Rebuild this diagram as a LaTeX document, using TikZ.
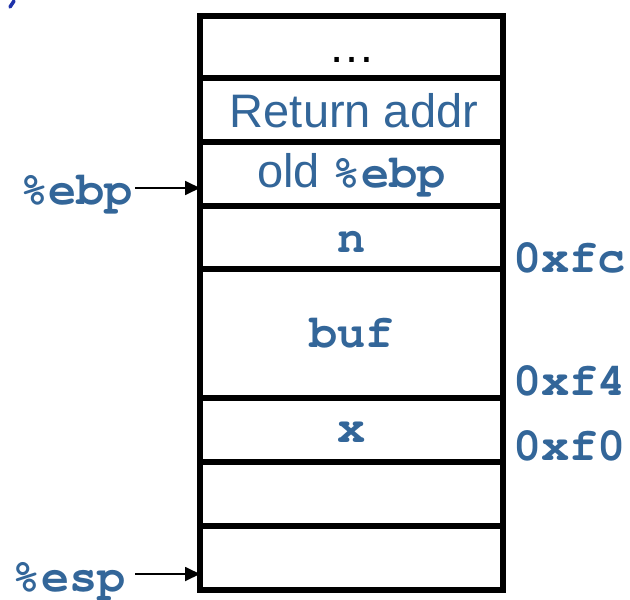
\documentclass[tikz,border=0pt]{standalone}
\usepackage{fontspec}
\setmainfont{Liberation Sans}
\newfontfamily\cursorbold{texgyrecursor-bold.otf}
\usetikzlibrary{arrows.meta}
\definecolor{lbl}{RGB}{51,102,153}
\definecolor{frag}{RGB}{30,50,170}
\newcommand\sansf{\fontsize{47bp}{52bp}\selectfont}
\newcommand\monof{\cursorbold\fontsize{47bp}{52bp}\selectfont}
\begin{document}
\begin{tikzpicture}[x=1bp,y=-1bp,
  cell/.style={draw=black,line width=5.5bp},
  txt/.style={inner sep=0pt,anchor=base,text=lbl},
  ptr/.style={draw=black,line width=1.8bp,-{Triangle[length=15bp,width=14bp]}}]
\useasboundingbox (0,0) rectangle (630,600);
\fill[white] (0,0) rectangle (630,600);
% fragment at top-left corner
\draw[frag,line width=3.5bp,line cap=round] (10,7) -- (14,1);
% stack cells
\draw[cell] (200,16) rectangle (503,590);
\foreach \yy in {78,142,206,269,398,462,526}
  \draw[cell] (200,\yy) -- (503,\yy);
% cell contents
\node[txt,text=black] (dots) at (351.5,63) {\sansf …};
\node[txt] (ret) at (354,128) {\sansf Return addr};
\node[txt] (oldebp) at (351.5,188) {\sansf old {\monof\%ebp}};
\node[txt] (n) at (351.5,252) {\monof n};
\node[txt] (buf) at (351.5,347) {\monof buf};
\node[txt] (x) at (351.5,442) {\monof x};
% address labels
\node[txt,anchor=base west] (afc) at (513,272) {\monof 0xfc};
\node[txt,anchor=base west] (af4) at (513,395) {\monof 0xf4};
\node[txt,anchor=base west] (af0) at (513,460) {\monof 0xf0};
% register pointers
\node[txt,anchor=base east] (ebp) at (133,204) {\monof\%ebp};
\node[txt,anchor=base east] (esp) at (126,591) {\monof\%esp};
\coordinate (ebpS) at (135,188);
\coordinate (ebpE) at (200,188);
\coordinate (espS) at (135,574);
\coordinate (espE) at (200,574);
\draw[ptr] (ebpS) -- (ebpE);
\draw[ptr] (espS) -- (espE);
\end{tikzpicture}
\end{document}
